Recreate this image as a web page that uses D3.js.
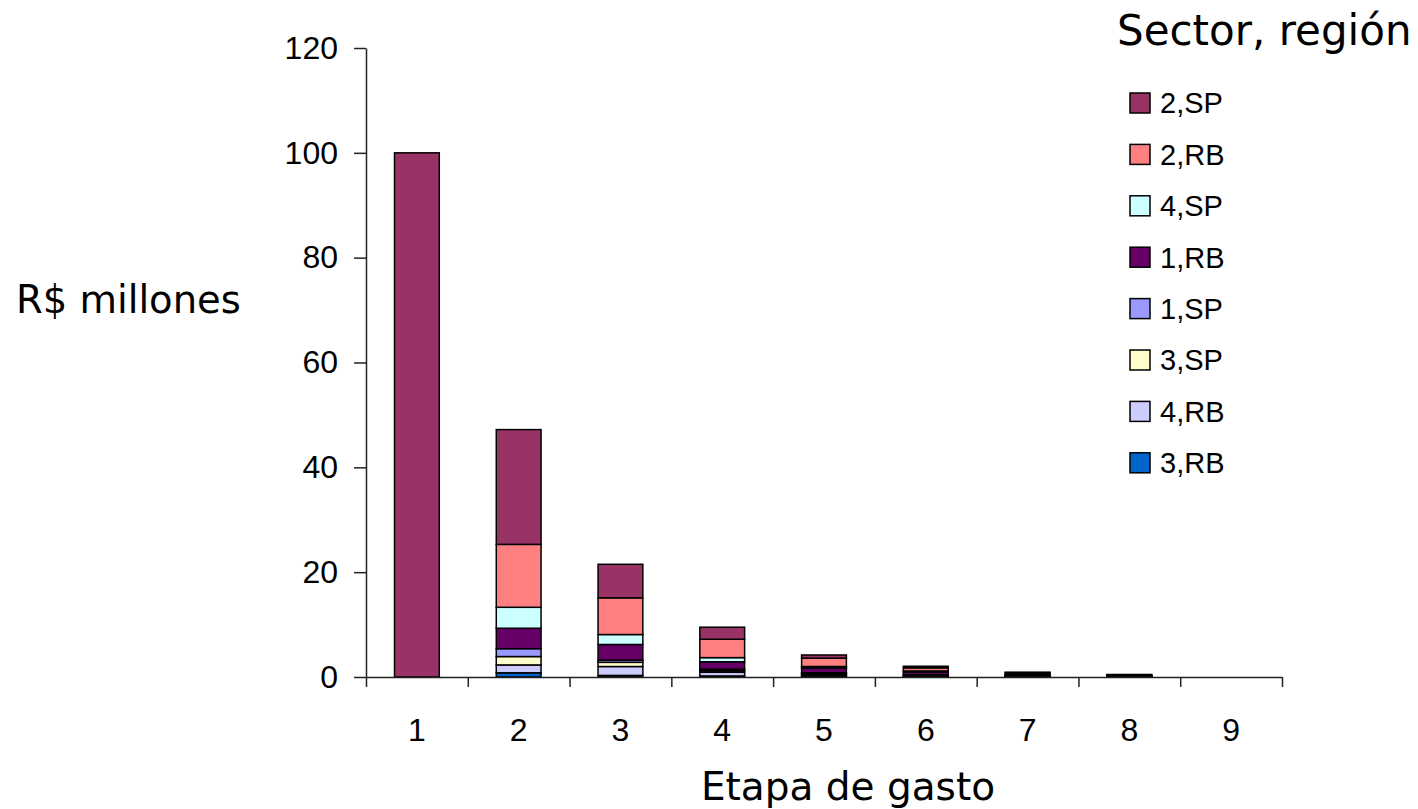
<!DOCTYPE html>
<html>
<head>
<meta charset="utf-8">
<script src="https://cdn.jsdelivr.net/npm/d3@7/dist/d3.min.js"></script>
<style>
  html, body { margin: 0; padding: 0; background: #fff; }
  svg { display: block; }
</style>
</head>
<body>
<svg id="chart" width="1418" height="809"></svg>
<script>
// ---- data ----
const categories = ["1", "2", "3", "4", "5", "6", "7", "8", "9"];
// stacking order: bottom to top
const seriesNames = ["3,RB", "4,RB", "3,SP", "1,SP", "1,RB", "4,SP", "2,RB", "2,SP"];
const seriesColors = ["#0066CC", "#CCCCFF", "#FFFFCC", "#9999FF", "#660066", "#CCFFFF", "#FF8080", "#993366"];
const s3RB = [0, 0.8, 0.3, 0.2, 0.1, 0.05, 0.02, 0.01, 0];
const s4RB = [0, 1.5, 1.7, 0.7, 0.3, 0.2, 0.05, 0.03, 0];
const s3SP = [0, 1.6, 0.8, 0.3, 0.2, 0.1, 0.05, 0.03, 0];
const s1SP = [0, 1.5, 0.4, 0.3, 0.2, 0.1, 0.05, 0.03, 0];
const s1RB = [0, 3.9, 3.0, 1.4, 0.9, 0.5, 0.2, 0.1, 0];
const s4SP = [0, 4.0, 1.9, 0.8, 0.3, 0.2, 0.1, 0.05, 0];
const s2RB = [0, 12.0, 7.0, 3.5, 1.6, 0.6, 0.3, 0.15, 0];
const s2SP = [100, 21.9, 6.4, 2.3, 0.6, 0.3, 0.15, 0.08, 0];
const seriesValues = [s3RB, s4RB, s3SP, s1SP, s1RB, s4SP, s2RB, s2SP];
const yTicks = [0, 20, 40, 60, 80, 100, 120];
const titleText = "Sector, región";
const yLabel = "R$ millones";
const xLabel = "Etapa de gasto";

// ---- build table ----
const table = categories.map((c, i) => {
  const row = { cat: c };
  seriesNames.forEach((s, j) => { row[s] = seriesValues[j][i]; });
  return row;
});
const stacked = d3.stack().keys(seriesNames)(table);

const svg = d3.select("#chart");
const plotLeft = 366, plotRight = 1282, plotTop = 48, plotBottom = 677;

const x = d3.scaleBand().domain(categories).range([plotLeft, plotRight])
  .paddingInner(0.56).paddingOuter(0.28);
const xEdges = d3.scaleLinear().domain([0, categories.length]).range([plotLeft, plotRight]);
const y = d3.scaleLinear().domain([0, 120]).range([plotBottom, plotTop]);

// bars
svg.append("g").selectAll("g").data(stacked).join("g")
  .attr("fill", (d, i) => seriesColors[i])
  .selectAll("rect")
  .data(d => d.filter(p => p[1] - p[0] > 0))
  .join("rect")
  .attr("x", d => x(d.data.cat))
  .attr("width", x.bandwidth())
  .attr("y", d => y(d[1]))
  .attr("height", d => y(d[0]) - y(d[1]))
  .attr("stroke", "#000")
  .attr("stroke-width", 1.5);

// y axis
const yAxis = svg.append("g").attr("transform", `translate(${plotLeft},0)`)
  .call(d3.axisLeft(y).tickValues(yTicks).tickSize(12).tickPadding(16).tickSizeOuter(0));
yAxis.select(".domain").attr("stroke", "#222").attr("stroke-width", 1.5);
yAxis.selectAll(".tick line").attr("stroke", "#222").attr("stroke-width", 1.5);
yAxis.selectAll("text").attr("font-family", "'Liberation Sans', Arial, sans-serif")
  .attr("font-size", 32).attr("fill", "#000");

// x axis (ticks between categories)
const xAxis = svg.append("g").attr("transform", `translate(0,${plotBottom})`)
  .call(d3.axisBottom(xEdges).tickValues(d3.range(0, categories.length + 1))
    .tickSize(10).tickFormat("").tickSizeOuter(0));
xAxis.select(".domain").attr("stroke", "#222").attr("stroke-width", 1.5);
xAxis.selectAll(".tick line").attr("stroke", "#222").attr("stroke-width", 1.5);

// x category labels
svg.append("g").selectAll("text").data(categories).join("text")
  .attr("x", d => x(d) + x.bandwidth() / 2)
  .attr("y", 741)
  .attr("text-anchor", "middle")
  .attr("font-family", "'Liberation Sans', Arial, sans-serif")
  .attr("font-size", 32)
  .text(d => d);

// axis titles
svg.append("text").attr("x", 16).attr("y", 313)
  .attr("font-family", "'DejaVu Sans', Verdana, sans-serif").attr("font-size", 38.5)
  .text(yLabel);
svg.append("text").attr("x", 848).attr("y", 800).attr("text-anchor", "middle")
  .attr("font-family", "'DejaVu Sans', Verdana, sans-serif").attr("font-size", 39)
  .text(xLabel);
svg.append("text").attr("x", 1117).attr("y", 45)
  .attr("font-family", "'DejaVu Sans', Verdana, sans-serif").attr("font-size", 42)
  .text(titleText);

// legend (top to bottom = reversed stacking)
const legendOrder = d3.range(seriesNames.length).reverse();
const lg = svg.append("g").selectAll("g").data(legendOrder).join("g")
  .attr("transform", (d, i) => `translate(1130,${103 + i * 51.4})`);
lg.append("rect").attr("x", 0).attr("y", -10).attr("width", 20).attr("height", 20)
  .attr("fill", d => seriesColors[d]).attr("stroke", "#000").attr("stroke-width", 1.5);
lg.append("text").attr("x", 30).attr("y", 0).attr("dy", "0.36em")
  .attr("font-family", "'Liberation Sans', Arial, sans-serif").attr("font-size", 29)
  .text(d => seriesNames[d]);
</script>
</body>
</html>
